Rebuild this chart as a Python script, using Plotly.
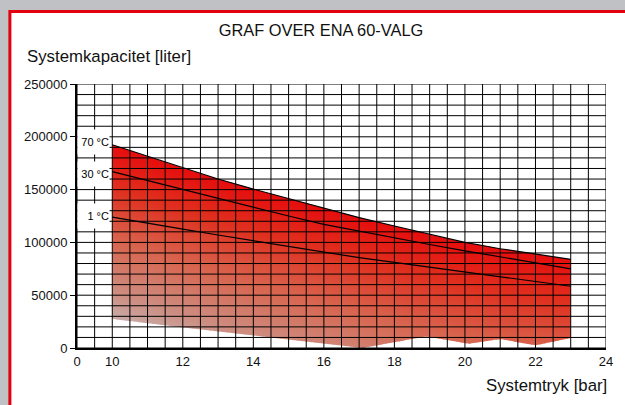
import numpy as np
import plotly.graph_objects as go

# ---------------- data ----------------
pressure = [10, 11, 12, 13, 14, 15, 16, 17, 18, 19, 20, 21, 22, 23]
cap_70 = [192500, 181500, 170500, 160000, 150500, 141500, 132500, 123500,
          115500, 107500, 100000, 94000, 89000, 84000]
cap_30 = [167000, 158500, 150000, 141500, 133000, 125000, 117000, 110500,
          104000, 98000, 92000, 86500, 81000, 75000]
cap_1 = [124000, 118000, 112500, 107000, 101500, 96000, 90500, 85500,
         81000, 76500, 72500, 68000, 63500, 58500]
# lower edge of the shaded area
bottom_x = [10, 12, 17.1, 18.9, 20.1, 21.0, 22.0, 23.0]
bottom_y = [27500, 19500, 0, 11000, 4000, 8500, 2500, 9500]

curve_labels = ["70 °C", "30 °C", "1 °C"]
label_y = [195000, 165000, 125000]

x_tickvals = [9, 10, 12, 14, 16, 18, 20, 22, 24]
x_ticktext = ["0", "10", "12", "14", "16", "18", "20", "22", "24"]
y_tickvals = [0, 50000, 100000, 150000, 200000, 250000]

title = "GRAF OVER ENA 60-VALG"
y_title = "Systemkapacitet [liter]"
x_title = "Systemtryk [bar]"

# ---------------- figure ----------------
W, H = 625, 405
L, R, T, B = 77, 16, 84, 57
pw, ph = W - L - R, H - T - B

fig = go.Figure()

colorscale = [[0, "#c9adaa"], [0.15, "#cd8e82"], [0.45, "#d8654f"],
              [0.75, "#e0301f"], [1, "#e60d0d"]]
fade = 165000

xs = np.union1d(np.linspace(pressure[0], pressure[-1], 105), bottom_x)
top = np.interp(xs, pressure, cap_70)
bot = np.interp(xs, bottom_x, bottom_y)
for i in range(len(xs) - 1):
    xa, xb = xs[i], xs[i + 1]
    eps = 0.03 if i < len(xs) - 2 else 0.0
    xb2 = xb + eps
    tb2 = np.interp(xb2, pressure, cap_70)
    bb2 = np.interp(xb2, bottom_x, bottom_y)
    tmid = (top[i] + top[i + 1]) / 2
    fig.add_trace(go.Scatter(
        x=[xa, xb2, xb2, xa], y=[top[i], tb2, bb2, bot[i]],
        mode="lines", fill="toself", line=dict(width=0),
        fillgradient=dict(type="vertical", colorscale=colorscale,
                          start=tmid - fade, stop=tmid),
        hoverinfo="skip", showlegend=False))

for series in (cap_70, cap_30, cap_1):
    fig.add_trace(go.Scatter(x=pressure, y=series, mode="lines",
                             line=dict(color="black", width=1.2),
                             hoverinfo="skip", showlegend=False))

shapes = []
# white panel with red border
shapes.append(dict(type="rect", xref="paper", yref="paper", layer="below",
                   x0=(9.5 - L) / pw, x1=(W + 80 - L) / pw,
                   y0=(T + ph - (H + 80)) / ph, y1=(T + ph - 11.5) / ph,
                   line=dict(color="#e3000f", width=3), fillcolor="white"))
# grid drawn above the shaded area
for gx in np.arange(9, 24.001, 0.5):
    shapes.append(dict(type="line", xref="x", yref="y", layer="above",
                       x0=gx, x1=gx, y0=0, y1=250000,
                       line=dict(color="black", width=1)))
for gy in np.arange(0, 250001, 10000):
    shapes.append(dict(type="line", xref="x", yref="y", layer="above",
                       x0=9, x1=24, y0=gy, y1=gy,
                       line=dict(color="black", width=1)))

annotations = []
for txt, yy in zip(curve_labels, label_y):
    annotations.append(dict(x=9.47, y=yy, xref="x", yref="y", text=txt,
                            showarrow=False, bgcolor="white", width=31,
                            height=24, align="right", borderpad=0,
                            font=dict(size=11, color="black")))
annotations.append(dict(x=(25 - L) / pw, y=(T + ph - 57) / ph, xref="paper",
                        yref="paper", text=y_title, showarrow=False,
                        xanchor="left", yanchor="middle",
                        font=dict(size=16.8, color="#111")))
annotations.append(dict(x=(612 - L) / pw, y=(T + ph - 385) / ph, xref="paper",
                        yref="paper", text=x_title, showarrow=False,
                        xanchor="right", yanchor="middle",
                        font=dict(size=16.8, color="#111")))

fig.update_layout(
    width=W, height=H,
    margin=dict(l=L, r=R, t=T, b=B),
    paper_bgcolor="#bfc1c4", plot_bgcolor="white",
    font=dict(family="Liberation Sans, Arial, sans-serif", color="#111"),
    title=dict(text=title, x=321 / W, xanchor="center", y=1 - 30 / H,
               yanchor="middle", font=dict(size=16.4, color="#111")),
    shapes=shapes, annotations=annotations,
    xaxis=dict(range=[9, 24], tickvals=x_tickvals, ticktext=x_ticktext,
               showgrid=False, zeroline=False, showline=True,
               linecolor="black", linewidth=2, ticks="",
               tickfont=dict(size=13, color="#111")),
    yaxis=dict(range=[0, 250000], tickvals=y_tickvals, showgrid=False,
               zeroline=False, showline=True, linecolor="black", linewidth=2,
               ticks="outside", ticklen=5, tickcolor="black",
               tickformat="d", tickfont=dict(size=13, color="#111")),
)

fig.write_html("out.html", config={"displayModeBar": False},
               post_script="document.body.style.margin='0px';"
                           "document.body.style.padding='0px';")
